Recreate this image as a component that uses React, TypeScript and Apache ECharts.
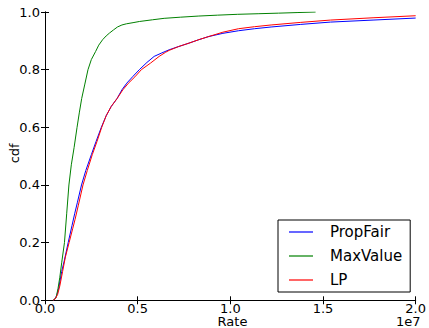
import React, { useEffect, useRef } from "react";
import * as echarts from "echarts";

// Rate values in units of 1e6 (axis shows them in units of 1e7)
const propFair: [number, number][] = [
  [0.44, 0], [0.55, 0.005], [0.65, 0.02], [0.75, 0.045], [0.9, 0.1], [1.05, 0.14],
  [1.25, 0.2], [1.46, 0.26], [1.6, 0.3], [1.75, 0.34], [1.97, 0.4], [2.2, 0.45],
  [2.5, 0.505], [2.75, 0.55], [3.04, 0.6], [3.3, 0.64], [3.57, 0.672], [3.89, 0.7],
  [4.15, 0.73], [4.41, 0.753], [4.75, 0.777], [5.09, 0.8], [5.5, 0.825], [5.89, 0.846],
  [6.3, 0.858], [6.7, 0.869], [7.2, 0.88], [7.77, 0.892], [8.3, 0.904], [8.84, 0.915],
  [9.6, 0.926], [10.44, 0.935], [11.3, 0.942], [12.2, 0.948], [13.8, 0.957],
  [15.4, 0.965], [17.7, 0.972], [20, 0.979],
];

const maxValue: [number, number][] = [
  [0.45, 0], [0.6, 0.01], [0.7, 0.04], [0.8, 0.08], [0.9, 0.13], [1.05, 0.2],
  [1.17, 0.3], [1.29, 0.4], [1.42, 0.47], [1.57, 0.53], [1.73, 0.6], [1.85, 0.65],
  [1.98, 0.7], [2.15, 0.75], [2.32, 0.8], [2.5, 0.835], [2.73, 0.863], [2.9, 0.885],
  [3.11, 0.904], [3.3, 0.917], [3.48, 0.927], [3.7, 0.938], [3.91, 0.948],
  [4.15, 0.955], [4.39, 0.959], [4.75, 0.963], [5.09, 0.967], [5.8, 0.973],
  [6.43, 0.978], [7.3, 0.982], [8.3, 0.986], [9.3, 0.989], [10.4, 0.992],
  [11.5, 0.994], [12.6, 0.996], [13.6, 0.998], [14.6, 1.0],
];

const lp: [number, number][] = [
  [0.44, 0], [0.55, 0.005], [0.68, 0.02], [0.8, 0.05], [0.95, 0.1], [1.1, 0.15],
  [1.3, 0.2], [1.5, 0.25], [1.62, 0.28], [1.8, 0.33], [2.05, 0.4], [2.28, 0.45],
  [2.55, 0.505], [2.8, 0.55], [3.06, 0.6], [3.3, 0.64], [3.57, 0.672], [3.89, 0.7],
  [4.2, 0.73], [4.5, 0.753], [4.85, 0.775], [5.2, 0.8], [5.7, 0.823], [6.16, 0.846],
  [6.5, 0.86], [6.7, 0.867], [7.2, 0.88], [7.77, 0.892], [8.3, 0.904], [8.84, 0.915],
  [9.6, 0.93], [10.44, 0.942], [11.3, 0.949], [12.2, 0.955], [13.8, 0.964],
  [15.4, 0.972], [17.7, 0.98], [20, 0.987],
];

const seriesNames = ["PropFair", "MaxValue", "LP"];
const seriesColors = ["#0000ff", "#008000", "#ff0000"];
const seriesData = [propFair, maxValue, lp];

const FONT = "DejaVu Sans";

export default function App() {
  const ref = useRef<HTMLDivElement>(null);
  useEffect(() => {
    if (!ref.current) return;
    const chart = echarts.init(ref.current, undefined, { renderer: "svg" });
    const axisCommon = {
      type: "value" as const,
      splitLine: { show: false },
      axisLine: { show: true, lineStyle: { color: "#000", width: 1 } },
      axisTick: { show: true, inside: true, length: 4, lineStyle: { color: "#000" } },
    };
    chart.setOption({
      animation: false,
      backgroundColor: "#fff",
      grid: { left: 45, right: 10.5, top: 12, bottom: 27.7, containLabel: false },
      xAxis: [
        {
          ...axisCommon,
          min: 0,
          max: 20,
          interval: 5,
          position: "bottom",
          axisLabel: {
            fontFamily: FONT,
            fontSize: 13,
            color: "#000",
            margin: 2.5,
            lineHeight: 12,
            formatter: (v: number) => (v / 10).toFixed(1),
          },
        },
        {
          ...axisCommon,
          min: 0,
          max: 20,
          interval: 5,
          position: "top",
          axisLabel: { show: false },
        },
      ],
      yAxis: [
        {
          ...axisCommon,
          min: 0,
          max: 1,
          interval: 0.2,
          position: "left",
          axisLabel: {
            fontFamily: FONT,
            fontSize: 13,
            color: "#000",
            margin: 5,
            formatter: (v: number) => v.toFixed(1),
          },
        },
        {
          ...axisCommon,
          min: 0,
          max: 1,
          interval: 0.2,
          position: "right",
          axisLabel: { show: false },
        },
      ],
      legend: {
        orient: "vertical",
        left: 278,
        top: 220,
        padding: [4, 8, 4, 11],
        itemGap: 8,
        itemWidth: 24,
        itemHeight: 1.2,
        icon: "rect",
        borderColor: "#000",
        borderWidth: 1,
        borderRadius: 0,
        backgroundColor: "#fff",
        textStyle: {
          fontFamily: FONT,
          fontSize: 15,
          color: "#000",
          lineHeight: 16,
          padding: [0, 0, 0, 12],
        },
        data: seriesNames,
      },
      graphic: [
        {
          type: "text",
          x: 14.2,
          y: 153.3,
          rotation: Math.PI / 2,
          style: {
            text: "cdf",
            font: `13px '${FONT}'`,
            fill: "#000",
            textAlign: "center",
            textVerticalAlign: "middle",
          },
        },
        {
          type: "text",
          x: 232.5,
          y: 321.5,
          style: {
            text: "Rate",
            font: `13px '${FONT}'`,
            fill: "#000",
            textAlign: "center",
            textVerticalAlign: "middle",
          },
        },
        {
          type: "text",
          x: 420.5,
          y: 321.5,
          style: {
            text: "1e7",
            font: `13px '${FONT}'`,
            fill: "#000",
            textAlign: "right",
            textVerticalAlign: "middle",
          },
        },
      ],
      series: seriesNames.map((name, i) => ({
        name,
        type: "line",
        xAxisIndex: 0,
        yAxisIndex: 0,
        data: seriesData[i],
        showSymbol: false,
        symbol: "none",
        lineStyle: { color: seriesColors[i], width: 1 },
        itemStyle: { color: seriesColors[i] },
        z: 2 + i,
      })),
    });
    return () => chart.dispose();
  }, []);
  return (
    <div
      ref={ref}
      style={{ position: "fixed", left: 0, top: 0, width: 429, height: 328 }}
    />
  );
}
